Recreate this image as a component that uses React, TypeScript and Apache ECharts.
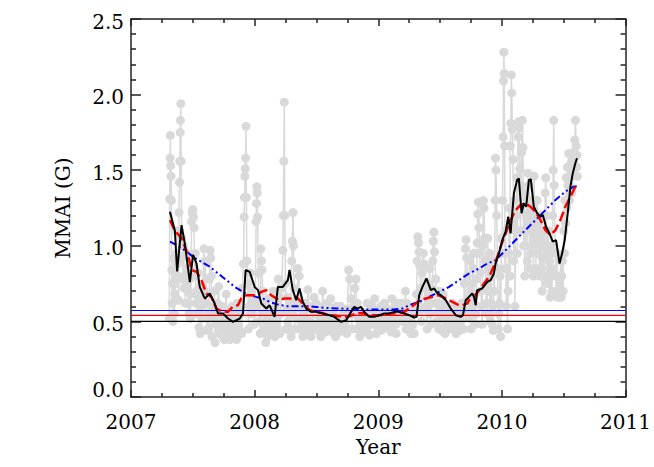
import React, { useEffect, useRef } from 'react';
import * as echarts from 'echarts';

// Daily MMAI values (gray points): [decimal year, G]
const grayData: [number, number][] = [
  [2007.310, 0.52], [2007.313, 1.31], [2007.316, 1.58], [2007.318, 1.73], [2007.321, 1.53], [2007.324, 1.46], [2007.327, 1.30], [2007.330, 0.84], [2007.335, 0.75], [2007.340, 0.50], [2007.350, 0.55], [2007.360, 0.75], [2007.370, 0.95], [2007.380, 0.80], [2007.388, 1.22], [2007.392, 1.42], [2007.395, 1.56], [2007.398, 1.75], [2007.400, 1.83], [2007.403, 1.94], [2007.406, 1.56], [2007.410, 1.05], [2007.420, 0.78], [2007.430, 0.72], [2007.440, 0.62], [2007.450, 0.85], [2007.460, 0.70], [2007.470, 0.55], [2007.480, 0.52], [2007.490, 1.16], [2007.495, 1.22], [2007.500, 1.24], [2007.505, 1.19], [2007.510, 1.12], [2007.520, 0.95], [2007.530, 0.70], [2007.540, 0.82],
  [2007.550, 0.46], [2007.560, 0.42], [2007.570, 0.60], [2007.580, 0.74], [2007.590, 0.98], [2007.600, 0.90], [2007.610, 0.62], [2007.620, 0.55], [2007.630, 0.46], [2007.640, 0.97], [2007.645, 0.92], [2007.650, 0.80], [2007.660, 0.60], [2007.670, 0.52], [2007.680, 0.36], [2007.690, 0.48], [2007.700, 0.62], [2007.710, 0.73], [2007.720, 0.55], [2007.730, 0.44], [2007.740, 0.40], [2007.750, 0.50],
  [2007.760, 0.55], [2007.770, 0.68], [2007.780, 0.46], [2007.790, 0.42], [2007.800, 0.38], [2007.810, 0.52], [2007.820, 0.60], [2007.830, 0.45], [2007.840, 0.40], [2007.850, 0.50], [2007.860, 0.62], [2007.870, 0.48], [2007.880, 0.44], [2007.890, 0.55], [2007.900, 0.72],
  [2007.910, 0.88], [2007.915, 1.19], [2007.918, 1.32], [2007.921, 1.46], [2007.924, 1.51], [2007.927, 1.58], [2007.930, 1.79], [2007.933, 1.32], [2007.937, 0.90], [2007.945, 0.75], [2007.955, 0.60], [2007.965, 0.82], [2007.975, 0.70], [2007.985, 0.55], [2007.995, 0.48],
  [2008.005, 0.60], [2008.012, 1.16], [2008.015, 1.28], [2008.018, 1.39], [2008.021, 1.35], [2008.024, 1.19], [2008.030, 0.82], [2008.040, 0.62], [2008.050, 0.98], [2008.055, 0.90], [2008.060, 0.84], [2008.070, 0.55], [2008.080, 0.45], [2008.090, 0.36], [2008.100, 0.50], [2008.110, 0.65], [2008.120, 0.58], [2008.130, 0.45], [2008.140, 0.42], [2008.150, 0.70], [2008.160, 0.52],
  [2008.170, 0.48], [2008.180, 0.62], [2008.190, 0.78], [2008.200, 0.66], [2008.210, 0.55], [2008.220, 0.72], [2008.228, 0.97], [2008.232, 1.20], [2008.236, 1.56], [2008.240, 1.95], [2008.244, 1.20], [2008.250, 0.75], [2008.260, 0.58], [2008.270, 0.50], [2008.280, 0.44], [2008.290, 0.62], [2008.300, 0.90], [2008.305, 1.03], [2008.310, 1.22], [2008.314, 1.00], [2008.320, 0.72], [2008.330, 0.60], [2008.340, 0.52], [2008.350, 0.85], [2008.360, 0.80], [2008.370, 0.60], [2008.380, 0.48], [2008.390, 0.40], [2008.400, 0.55], [2008.410, 0.62], [2008.420, 0.52],
  [2008.430, 0.71], [2008.440, 0.60], [2008.450, 0.50], [2008.460, 0.45], [2008.470, 0.58], [2008.480, 0.66], [2008.490, 0.55], [2008.500, 0.48], [2008.510, 0.44], [2008.520, 0.60], [2008.530, 0.52], [2008.540, 0.46], [2008.550, 0.70], [2008.560, 0.56], [2008.570, 0.48], [2008.580, 0.52], [2008.590, 0.62], [2008.600, 0.50], [2008.610, 0.45], [2008.620, 0.58], [2008.630, 0.55], [2008.640, 0.42], [2008.650, 0.50], [2008.660, 0.60], [2008.670, 0.47], [2008.680, 0.43], [2008.690, 0.52], [2008.700, 0.48], [2008.710, 0.44], [2008.720, 0.55], [2008.730, 0.50], [2008.740, 0.46], [2008.750, 0.58], [2008.760, 0.84], [2008.770, 0.78], [2008.780, 0.65], [2008.790, 0.55], [2008.800, 0.60], [2008.810, 0.72], [2008.820, 0.78], [2008.830, 0.62], [2008.840, 0.52], [2008.850, 0.40], [2008.860, 0.48], [2008.870, 0.56], [2008.880, 0.52], [2008.890, 0.45], [2008.900, 0.50], [2008.910, 0.62], [2008.920, 0.55], [2008.930, 0.41], [2008.940, 0.48], [2008.950, 0.52], [2008.960, 0.58], [2008.970, 0.65], [2008.980, 0.50], [2008.990, 0.47],
  [2009.000, 0.55], [2009.010, 0.52], [2009.020, 0.60], [2009.030, 0.48], [2009.040, 0.55], [2009.050, 0.62], [2009.060, 0.50], [2009.070, 0.46], [2009.080, 0.58], [2009.090, 0.54], [2009.100, 0.50], [2009.110, 0.65], [2009.120, 0.58], [2009.130, 0.52], [2009.140, 0.48], [2009.150, 0.62], [2009.160, 0.60], [2009.170, 0.52], [2009.180, 0.56], [2009.190, 0.50], [2009.200, 0.58], [2009.210, 0.55], [2009.220, 0.70], [2009.230, 0.62], [2009.240, 0.50], [2009.250, 0.45], [2009.260, 0.52], [2009.270, 0.58], [2009.280, 0.48], [2009.290, 0.42], [2009.300, 0.55],
  [2009.310, 0.68], [2009.315, 0.90], [2009.320, 1.06], [2009.325, 1.02], [2009.330, 0.96], [2009.335, 0.87], [2009.345, 0.72], [2009.355, 0.82], [2009.365, 0.95], [2009.370, 0.88], [2009.380, 0.72], [2009.390, 0.60], [2009.400, 0.75], [2009.410, 0.68], [2009.420, 0.55], [2009.430, 0.72], [2009.440, 0.90], [2009.445, 1.03], [2009.450, 1.09], [2009.455, 0.96], [2009.465, 0.78], [2009.475, 0.62], [2009.485, 0.55], [2009.495, 0.70],
  [2009.505, 0.60], [2009.515, 0.52], [2009.525, 0.68], [2009.535, 0.62], [2009.545, 0.55], [2009.555, 0.48], [2009.565, 0.52], [2009.575, 0.60], [2009.585, 0.50], [2009.595, 0.45], [2009.605, 0.58], [2009.615, 0.49], [2009.625, 0.53], [2009.635, 0.60], [2009.645, 0.48], [2009.655, 0.55], [2009.665, 0.50], [2009.675, 0.62], [2009.685, 0.58],
  [2009.695, 0.75], [2009.705, 0.98], [2009.710, 1.04], [2009.715, 0.92], [2009.725, 0.65], [2009.735, 0.52], [2009.745, 0.70], [2009.755, 0.58], [2009.765, 0.85], [2009.775, 0.62], [2009.785, 0.48], [2009.795, 0.78], [2009.800, 1.02], [2009.805, 1.21], [2009.810, 1.29], [2009.815, 1.12], [2009.825, 0.82], [2009.835, 0.60], [2009.845, 1.00], [2009.850, 1.30], [2009.855, 1.25], [2009.860, 1.05], [2009.870, 0.72], [2009.880, 0.55], [2009.890, 0.85], [2009.900, 0.95], [2009.910, 0.62], [2009.920, 0.48], [2009.930, 0.44], [2009.940, 0.70], [2009.945, 1.30], [2009.948, 1.58], [2009.952, 1.50], [2009.958, 1.20], [2009.965, 0.85], [2009.975, 0.55],
  [2009.985, 0.80], [2009.995, 1.05], [2010.005, 1.30], [2010.010, 1.72], [2010.013, 2.09], [2010.016, 2.28], [2010.019, 2.14], [2010.022, 1.66], [2010.030, 1.10], [2010.040, 0.85], [2010.050, 0.70], [2010.060, 1.25], [2010.068, 1.66], [2010.072, 1.81], [2010.076, 2.13], [2010.080, 2.01], [2010.084, 1.77], [2010.090, 1.57], [2010.100, 1.30], [2010.110, 1.10], [2010.120, 1.45], [2010.130, 1.72], [2010.135, 1.82], [2010.140, 1.78], [2010.145, 1.51], [2010.155, 1.40], [2010.160, 1.62], [2010.165, 1.83], [2010.170, 1.65], [2010.180, 1.35], [2010.190, 1.10], [2010.200, 1.30], [2010.210, 1.48], [2010.220, 1.40], [2010.230, 1.20], [2010.240, 1.00], [2010.250, 1.25], [2010.260, 1.46], [2010.270, 1.30], [2010.280, 1.10], [2010.290, 0.95], [2010.300, 1.15],
  [2010.310, 1.05], [2010.320, 0.85], [2010.330, 0.92], [2010.340, 1.10], [2010.350, 1.35], [2010.355, 1.45], [2010.360, 1.20], [2010.370, 0.95], [2010.380, 0.78], [2010.390, 0.66], [2010.400, 0.85], [2010.410, 1.20], [2010.415, 1.50], [2010.419, 1.83], [2010.423, 1.40], [2010.430, 0.95], [2010.440, 0.70], [2010.450, 0.66], [2010.460, 0.80], [2010.470, 0.72], [2010.480, 0.66], [2010.490, 0.90], [2010.500, 1.10],
  [2010.510, 1.30], [2010.520, 1.45], [2010.530, 1.52], [2010.540, 1.61], [2010.550, 1.40], [2010.560, 1.55], [2010.570, 1.48], [2010.580, 1.62], [2010.590, 1.70], [2010.595, 1.83], [2010.600, 1.66], [2010.605, 1.52], [2010.610, 1.46],
];

// Further daily values filling the dense gray cloud
const grayExtra: [number, number][] = [
  [2007.333, 0.62], [2007.345, 0.92], [2007.355, 0.68], [2007.365, 1.10], [2007.375, 0.88], [2007.385, 0.64], [2007.415, 0.92], [2007.425, 1.00], [2007.435, 0.80], [2007.445, 0.75], [2007.455, 0.95], [2007.465, 0.62], [2007.475, 0.78], [2007.485, 0.68], [2007.515, 0.80], [2007.525, 0.62], [2007.535, 0.55], [2007.545, 0.66],
  [2007.555, 0.62], [2007.575, 0.52], [2007.595, 0.70], [2007.615, 0.44], [2007.635, 0.78], [2007.655, 0.40], [2007.675, 0.70], [2007.695, 0.55], [2007.715, 0.42], [2007.735, 0.60], [2007.755, 0.38], [2007.775, 0.50], [2007.795, 0.58], [2007.815, 0.42], [2007.835, 0.55], [2007.855, 0.38], [2007.875, 0.58], [2007.895, 0.42],
  [2007.950, 0.45], [2007.970, 0.55], [2007.990, 0.65], [2008.035, 0.50], [2008.045, 0.42], [2008.065, 0.70], [2008.085, 0.62], [2008.105, 0.40], [2008.125, 0.52], [2008.145, 0.55], [2008.165, 0.40], [2008.185, 0.45], [2008.205, 0.42],
  [2008.255, 0.45], [2008.265, 0.66], [2008.285, 0.55], [2008.295, 0.40], [2008.325, 0.45], [2008.345, 0.65], [2008.365, 0.45], [2008.385, 0.58], [2008.405, 0.44], [2008.425, 0.45],
  [2008.455, 0.40], [2008.495, 0.62], [2008.535, 0.40], [2008.575, 0.43], [2008.615, 0.65], [2008.655, 0.40], [2008.695, 0.60], [2008.745, 0.42], [2008.785, 0.45], [2008.825, 0.45], [2008.865, 0.42], [2008.905, 0.44], [2008.945, 0.60], [2008.985, 0.42], [2009.025, 0.44], [2009.065, 0.58], [2009.105, 0.43], [2009.145, 0.42], [2009.185, 0.62], [2009.225, 0.45], [2009.265, 0.42], [2009.295, 0.60],
  [2009.340, 0.58], [2009.350, 0.50], [2009.375, 0.58], [2009.395, 0.45], [2009.415, 0.85], [2009.425, 0.48], [2009.435, 0.62], [2009.470, 0.50], [2009.490, 0.45], [2009.510, 0.44], [2009.540, 0.42], [2009.570, 0.45], [2009.600, 0.62], [2009.630, 0.42], [2009.660, 0.44], [2009.690, 0.45],
  [2009.700, 0.55], [2009.720, 0.80], [2009.740, 0.90], [2009.750, 0.45], [2009.760, 0.75], [2009.770, 0.95], [2009.780, 0.68], [2009.790, 0.55], [2009.820, 0.95], [2009.830, 0.70], [2009.840, 0.48], [2009.865, 0.90], [2009.875, 0.62], [2009.885, 1.05], [2009.895, 0.70], [2009.905, 0.50], [2009.915, 0.80], [2009.925, 0.60], [2009.935, 0.90], [2009.970, 0.45], [2009.980, 0.62],
  [2009.990, 0.40], [2010.000, 0.95], [2010.025, 0.85], [2010.035, 0.60], [2010.045, 0.45], [2010.055, 0.95], [2010.065, 0.80], [2010.095, 0.90], [2010.105, 0.60], [2010.115, 1.20], [2010.125, 0.95], [2010.150, 1.10], [2010.175, 1.00], [2010.185, 0.80], [2010.195, 1.20], [2010.205, 0.90], [2010.215, 1.10], [2010.225, 0.85], [2010.235, 0.95], [2010.245, 1.30], [2010.255, 0.80], [2010.265, 1.05], [2010.275, 0.85], [2010.285, 1.30], [2010.295, 1.05],
  [2010.305, 0.80], [2010.315, 1.20], [2010.325, 0.70], [2010.335, 1.00], [2010.345, 0.80], [2010.365, 0.75], [2010.375, 1.10], [2010.385, 0.90], [2010.395, 1.00], [2010.405, 0.70], [2010.435, 0.80], [2010.445, 0.95], [2010.455, 0.70], [2010.465, 0.66], [2010.475, 0.90], [2010.485, 0.80], [2010.495, 0.70],
  [2010.505, 0.95], [2010.515, 1.15], [2010.525, 1.25], [2010.535, 1.40], [2010.545, 1.30], [2010.555, 1.45], [2010.565, 1.35], [2010.575, 1.52], [2010.585, 1.58], [2010.608, 1.60],
];

// Short running mean (black)
const blackData: [number, number][] = [
  [2007.315, 1.225], [2007.355, 1.10], [2007.373, 0.83], [2007.409, 1.137], [2007.435, 1.016], [2007.476, 0.76], [2007.502, 0.94], [2007.53, 0.883], [2007.556, 0.728], [2007.597, 0.65], [2007.637, 0.685], [2007.677, 0.618], [2007.704, 0.552], [2007.744, 0.552], [2007.785, 0.519], [2007.825, 0.497], [2007.879, 0.519], [2007.906, 0.552], [2007.927, 0.84], [2007.96, 0.828], [2008.0, 0.728], [2008.027, 0.707], [2008.054, 0.618], [2008.094, 0.585], [2008.121, 0.607], [2008.161, 0.53], [2008.188, 0.728], [2008.228, 0.728], [2008.269, 0.773], [2008.282, 0.84], [2008.309, 0.707], [2008.336, 0.64], [2008.363, 0.718], [2008.39, 0.629], [2008.417, 0.585], [2008.457, 0.563], [2008.498, 0.563], [2008.551, 0.552], [2008.605, 0.541], [2008.645, 0.53], [2008.699, 0.497], [2008.74, 0.508], [2008.78, 0.563], [2008.806, 0.596], [2008.833, 0.585], [2008.86, 0.596], [2008.887, 0.563], [2008.927, 0.53], [2008.968, 0.53], [2009.008, 0.541], [2009.048, 0.552], [2009.089, 0.552], [2009.129, 0.563], [2009.169, 0.563], [2009.21, 0.552], [2009.25, 0.541], [2009.29, 0.526], [2009.309, 0.53], [2009.331, 0.673], [2009.357, 0.728], [2009.39, 0.784], [2009.425, 0.707], [2009.452, 0.718], [2009.479, 0.685], [2009.506, 0.673], [2009.546, 0.64], [2009.586, 0.585], [2009.627, 0.541], [2009.667, 0.53], [2009.685, 0.541], [2009.707, 0.64], [2009.734, 0.662], [2009.76, 0.685], [2009.774, 0.662], [2009.788, 0.607], [2009.80, 0.707], [2009.841, 0.718], [2009.882, 0.762], [2009.909, 0.773], [2009.935, 0.817], [2009.949, 0.883], [2009.976, 0.95], [2010.003, 1.038], [2010.03, 1.093], [2010.051, 1.192], [2010.07, 1.082], [2010.097, 1.347], [2010.123, 1.435], [2010.137, 1.446], [2010.159, 1.215], [2010.177, 1.281], [2010.196, 1.258], [2010.218, 1.435], [2010.234, 1.44], [2010.258, 1.258], [2010.285, 1.215], [2010.312, 1.192], [2010.331, 1.203], [2010.357, 1.126], [2010.385, 1.082], [2010.411, 1.027], [2010.438, 1.038], [2010.466, 0.883], [2010.487, 0.95], [2010.508, 1.038], [2010.535, 1.236], [2010.554, 1.391], [2010.573, 1.479], [2010.594, 1.546], [2010.607, 1.579],
];

// Longer running mean (red dashed)
const redData: [number, number][] = [
  [2007.315, 1.17], [2007.355, 1.10], [2007.409, 1.049], [2007.462, 0.938], [2007.49, 0.84], [2007.53, 0.828], [2007.57, 0.773], [2007.61, 0.685], [2007.65, 0.662], [2007.69, 0.585], [2007.744, 0.563], [2007.785, 0.563], [2007.825, 0.6], [2007.865, 0.607], [2007.892, 0.652], [2007.933, 0.673], [2007.973, 0.673], [2008.013, 0.673], [2008.054, 0.695], [2008.094, 0.707], [2008.134, 0.673], [2008.175, 0.652], [2008.2, 0.64], [2008.242, 0.652], [2008.296, 0.652], [2008.336, 0.662], [2008.363, 0.64], [2008.403, 0.607], [2008.444, 0.574], [2008.498, 0.563], [2008.551, 0.556], [2008.591, 0.541], [2008.632, 0.541], [2008.713, 0.53], [2008.766, 0.534], [2008.82, 0.552], [2008.873, 0.556], [2008.914, 0.541], [2008.968, 0.541], [2009.035, 0.541], [2009.102, 0.552], [2009.169, 0.556], [2009.21, 0.563], [2009.25, 0.585], [2009.304, 0.618], [2009.345, 0.645], [2009.385, 0.652], [2009.438, 0.662], [2009.49, 0.673], [2009.546, 0.652], [2009.6, 0.629], [2009.653, 0.607], [2009.68, 0.607], [2009.72, 0.618], [2009.734, 0.64], [2009.774, 0.665], [2009.815, 0.705], [2009.855, 0.75], [2009.882, 0.78], [2009.909, 0.817], [2009.949, 0.894], [2009.99, 0.993], [2010.03, 1.082], [2010.07, 1.17], [2010.111, 1.236], [2010.151, 1.27], [2010.19, 1.281], [2010.232, 1.258], [2010.272, 1.225], [2010.312, 1.17], [2010.352, 1.104], [2010.393, 1.071], [2010.433, 1.104], [2010.473, 1.17], [2010.513, 1.258], [2010.554, 1.325], [2010.594, 1.391], [2010.607, 1.413],
];

// Long-term trend (blue dash-dot-dot)
const blueData: [number, number][] = [
  [2007.315, 1.027], [2007.368, 1.005], [2007.435, 0.971], [2007.502, 0.927], [2007.57, 0.894], [2007.637, 0.861], [2007.704, 0.817], [2007.772, 0.773], [2007.839, 0.728], [2007.906, 0.695], [2007.96, 0.673], [2008.013, 0.662], [2008.067, 0.652], [2008.121, 0.629], [2008.175, 0.614], [2008.256, 0.601], [2008.336, 0.601], [2008.417, 0.601], [2008.498, 0.596], [2008.578, 0.589], [2008.685, 0.585], [2008.793, 0.583], [2008.9, 0.579], [2009.008, 0.579], [2009.115, 0.579], [2009.196, 0.585], [2009.25, 0.607], [2009.331, 0.629], [2009.411, 0.662], [2009.49, 0.695], [2009.573, 0.728], [2009.653, 0.773], [2009.734, 0.817], [2009.815, 0.85], [2009.882, 0.883], [2009.949, 0.905], [2010.03, 0.971], [2010.111, 1.038], [2010.19, 1.104], [2010.272, 1.17], [2010.352, 1.236], [2010.433, 1.303], [2010.513, 1.358], [2010.58, 1.391], [2010.607, 1.395],
];

// Reference levels
const blackLevel = 0.5;
const redLevel = 0.54;
const blueLevel = 0.572;

const xRange = [2007, 2011];
const yRange = [0, 2.5];

const FONT = 'DejaVu Serif';
const AX = '#222';

export default function App() {
  const ref = useRef<HTMLDivElement>(null);
  useEffect(() => {
    if (!ref.current) return;
    const chart = echarts.init(ref.current, undefined, { renderer: 'svg' });
    const grayAll = [...grayData, ...grayExtra].sort((a, b) => a[0] - b[0]);
    const axisCommon = {
      axisLine: { show: true, onZero: false, lineStyle: { color: AX, width: 1.5 } },
      splitLine: { show: false },
      minorSplitLine: { show: false },
    };
    const xBase = (pos: 'bottom' | 'top') => ({
      type: 'value',
      position: pos,
      min: xRange[0],
      max: xRange[1],
      interval: 1,
      ...axisCommon,
      axisTick: { show: true, inside: true, length: 7, lineStyle: { color: AX, width: 1.5 } },
      minorTick: { show: true, splitNumber: 4, length: 4, lineStyle: { color: AX, width: 1.5 } },
    });
    const yBase = (pos: 'left' | 'right') => ({
      type: 'value',
      position: pos,
      min: yRange[0],
      max: yRange[1],
      interval: 0.5,
      ...axisCommon,
      axisTick: { show: true, inside: true, length: 10, lineStyle: { color: AX, width: 1.5 } },
      minorTick: { show: true, splitNumber: 5, length: 5, lineStyle: { color: AX, width: 1.5 } },
    });
    const hline = (lvl: number, color: string) => ({
      type: 'line',
      data: [[xRange[0], lvl], [xRange[1], lvl]],
      symbol: 'none',
      silent: true,
      lineStyle: { color, width: 1.2 },
      z: 3,
    });
    chart.setOption({
      animation: false,
      backgroundColor: '#ffffff',
      grid: { left: 131, right: 27, top: 19, bottom: 70, containLabel: false },
      xAxis: [
        {
          ...xBase('bottom'),
          axisLabel: {
            show: true,
            margin: 15,
            color: '#000',
            fontFamily: FONT,
            fontSize: 20,
            formatter: (v: number) => String(Math.round(v)),
          },
          name: 'Year',
          nameLocation: 'middle',
          nameGap: 40,
          nameTextStyle: { color: '#000', fontFamily: FONT, fontSize: 20 },
        },
        { ...xBase('top'), axisLabel: { show: false } },
      ],
      yAxis: [
        {
          ...yBase('left'),
          axisLabel: {
            show: true,
            margin: 7,
            color: '#000',
            fontFamily: FONT,
            fontSize: 20,
            formatter: (v: number) => (Math.abs(v) < 1e-9 ? '{lo|0.0}' : '{n|' + v.toFixed(1) + '}'),
            rich: {
              lo: { fontFamily: FONT, fontSize: 20, color: '#000', padding: [0, 0, 15, 0] },
              n: { fontFamily: FONT, fontSize: 20, color: '#000', padding: [5, 0, 0, 0] },
            },
          },
          name: 'MMAI (G)',
          nameLocation: 'middle',
          nameGap: 58,
          nameRotate: 90,
          nameTextStyle: { color: '#000', fontFamily: FONT, fontSize: 20 },
        },
        { ...yBase('right'), axisLabel: { show: false } },
      ],
      series: [
        {
          type: 'line',
          data: grayAll,
          symbol: 'circle',
          symbolSize: 9,
          showAllSymbol: true,
          silent: true,
          itemStyle: { color: '#d9d9d9' },
          lineStyle: { color: '#d9d9d9', width: 1.5 },
          z: 2,
        },
        hline(blackLevel, '#000000'),
        hline(redLevel, '#ff0000'),
        hline(blueLevel, '#0000ff'),
        {
          type: 'line',
          data: blueData,
          symbol: 'none',
          silent: true,
          lineStyle: { color: '#0000ff', width: 2, type: [7, 3, 2, 3, 2, 3] },
          z: 4,
        },
        {
          type: 'line',
          data: redData,
          symbol: 'none',
          silent: true,
          lineStyle: { color: '#ff0000', width: 2.5, type: [10, 4] },
          z: 5,
        },
        {
          type: 'line',
          data: blackData,
          symbol: 'none',
          silent: true,
          lineStyle: { color: '#000000', width: 2 },
          z: 6,
        },
      ],
    });
    return () => chart.dispose();
  }, []);
  return (
    <div
      ref={ref}
      style={{ position: 'fixed', left: 0, top: 0, width: 654, height: 467, background: '#fff' }}
    />
  );
}
